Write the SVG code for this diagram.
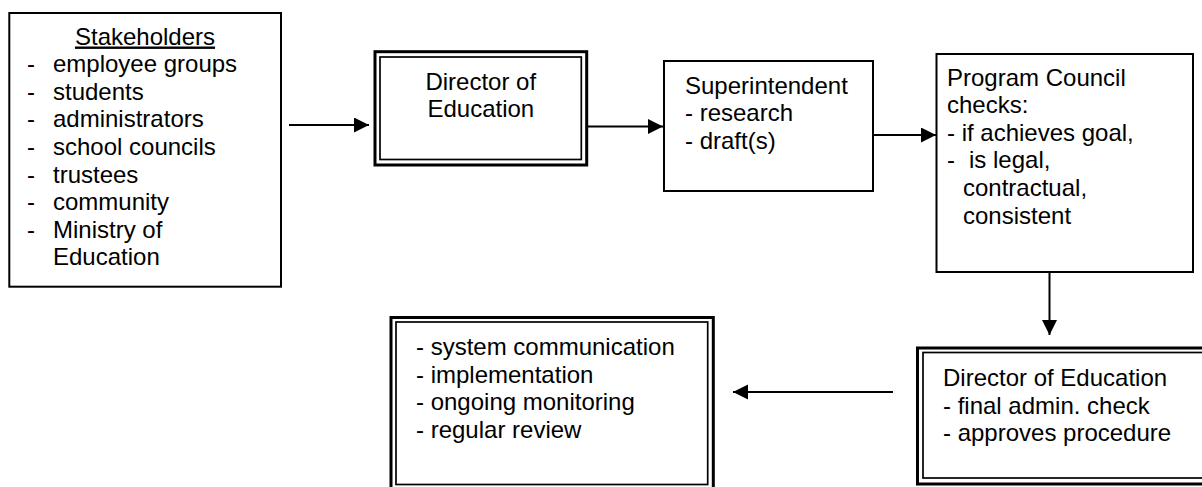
<svg xmlns="http://www.w3.org/2000/svg" width="1202" height="487" viewBox="0 0 1202 487">
<style>
text { font-family: "Liberation Sans", Arial, sans-serif; font-size: 24px; fill: #000; }
.box { fill: #fff; stroke: #000; stroke-width: 2; }
.outer { fill: #fff; stroke: #000; stroke-width: 3; }
.inner { fill: none; stroke: #000; stroke-width: 1.7; }
.conn { stroke: #000; stroke-width: 2; fill: none; marker-end: url(#arrow); }
</style>
<defs>
<marker id="arrow" markerUnits="userSpaceOnUse" markerWidth="16" markerHeight="16" refX="15" refY="7.5" orient="auto">
<path d="M0,0 L15,7.5 L0,15 Z" fill="#000"/>
</marker>
</defs>
<rect width="1202" height="487" fill="#fff"/>

<g id="connectors">
<line class="conn" x1="289" y1="125" x2="369" y2="125"/>
<line class="conn" x1="587" y1="126.5" x2="663" y2="126.5"/>
<line class="conn" x1="873" y1="135" x2="936" y2="135"/>
<line class="conn" x1="1049.5" y1="272" x2="1049.5" y2="335"/>
<line class="conn" x1="893" y1="392" x2="733" y2="392"/>
</g>

<g id="stakeholders">
<rect class="box" x="9.3" y="13" width="271.7" height="273.7"/>
<text x="145" y="44.5" text-anchor="middle" text-decoration="underline">Stakeholders</text>
<text x="27" y="72.2">-</text><text x="53" y="72.2">employee groups</text>
<text x="27" y="99.8">-</text><text x="53" y="99.8">students</text>
<text x="27" y="127.4">-</text><text x="53" y="127.4">administrators</text>
<text x="27" y="155">-</text><text x="53" y="155">school councils</text>
<text x="27" y="182.6">-</text><text x="53" y="182.6">trustees</text>
<text x="27" y="210.2">-</text><text x="53" y="210.2">community</text>
<text x="27" y="237.8">-</text><text x="53" y="237.8">Ministry of</text>
<text x="53" y="265.4">Education</text>
</g>

<g id="director1">
<rect class="outer" x="375" y="51.7" width="211.7" height="113.3"/>
<rect class="inner" x="380" y="57" width="201.3" height="102.5"/>
<text x="480.8" y="89.5" text-anchor="middle">Director of</text>
<text x="480.8" y="117" text-anchor="middle">Education</text>
</g>

<g id="superintendent">
<rect class="box" x="664" y="61" width="209" height="130"/>
<text x="685" y="93.5">Superintendent</text>
<text x="685" y="121.2">- research</text>
<text x="685" y="148.8">- draft(s)</text>
</g>

<g id="program-council">
<rect class="box" x="936.5" y="54" width="256.5" height="218"/>
<text x="947" y="85.5">Program Council</text>
<text x="947" y="113.1">checks:</text>
<text x="947" y="140.7">- if achieves goal,</text>
<text x="947" y="168.3">-</text><text x="969" y="168.3">is legal,</text>
<text x="963" y="195.9">contractual,</text>
<text x="963" y="223.5">consistent</text>
</g>

<g id="director2">
<rect class="outer" x="917.5" y="348" width="300" height="136"/>
<rect class="inner" x="923" y="352.5" width="290" height="125.5"/>
<text x="943" y="386">Director of Education</text>
<text x="943" y="413.6">- final admin. check</text>
<text x="943" y="441.2">- approves procedure</text>
</g>

<g id="outcomes">
<rect class="outer" x="391" y="317.5" width="322.3" height="175"/>
<rect class="inner" x="396" y="322" width="311.7" height="162.5"/>
<text x="416" y="355">- system communication</text>
<text x="416" y="382.6">- implementation</text>
<text x="416" y="410.2">- ongoing monitoring</text>
<text x="416" y="437.8">- regular review</text>
</g>
</svg>
